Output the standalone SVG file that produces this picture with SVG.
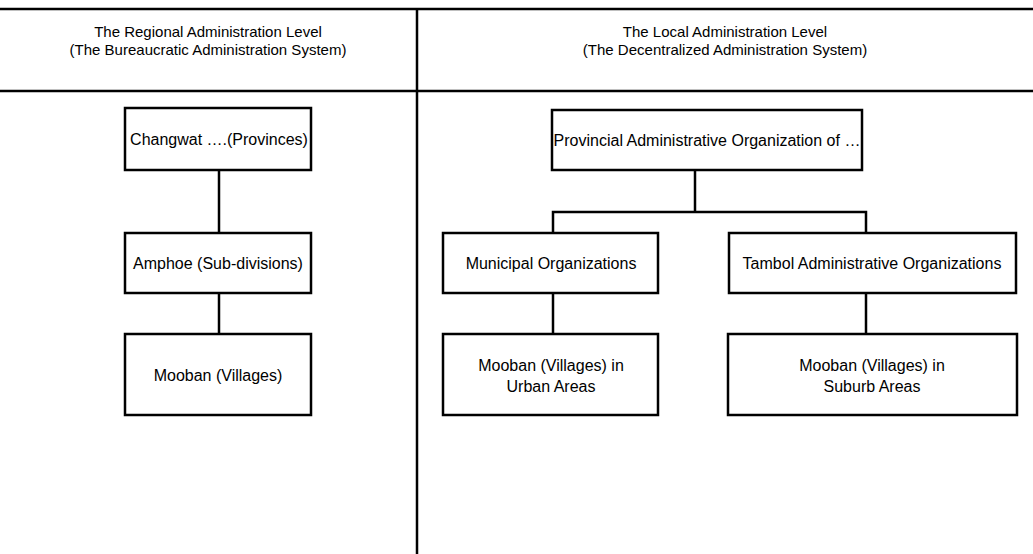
<svg xmlns="http://www.w3.org/2000/svg" width="1033" height="554" viewBox="0 0 1033 554">
<style>
.box{fill:#fff;stroke:#000;stroke-width:2.5}
.ln{stroke:#000;stroke-width:2.5;fill:none}
text{font-family:"Liberation Sans",Arial,sans-serif;font-size:16px;fill:#000;text-anchor:middle}
text.hd{font-size:15px}
</style>
<rect width="1033" height="554" fill="#fff"/>
<g id="frame">
<line class="ln" x1="0" y1="9" x2="1033" y2="9"/>
<line class="ln" x1="0" y1="91" x2="1033" y2="91"/>
<line class="ln" x1="417" y1="9" x2="417" y2="554"/>
</g>
<g id="header-left">
<text class="hd" x="208" y="37">The Regional Administration Level</text>
<text class="hd" x="208" y="55">(The Bureaucratic Administration System)</text>
</g>
<g id="header-right">
<text class="hd" x="725" y="37">The Local Administration Level</text>
<text class="hd" x="725" y="55">(The Decentralized Administration System)</text>
</g>
<g id="connectors">
<line class="ln" x1="219" y1="170" x2="219" y2="233"/>
<line class="ln" x1="219" y1="293" x2="219" y2="334"/>
<line class="ln" x1="695" y1="170" x2="695" y2="212"/>
<polyline class="ln" points="553,233 553,212 866,212 866,233"/>
<line class="ln" x1="553" y1="293" x2="553" y2="334"/>
<line class="ln" x1="866" y1="293" x2="866" y2="334"/>
</g>
<g id="changwat">
<rect class="box" x="125" y="108" width="186" height="62"/>
<text x="219" y="145">Changwat ….(Provinces)</text>
</g>
<g id="amphoe">
<rect class="box" x="125" y="233" width="186" height="60"/>
<text x="218" y="269">Amphoe (Sub-divisions)</text>
</g>
<g id="mooban">
<rect class="box" x="125" y="334" width="186" height="81"/>
<text x="218" y="381">Mooban (Villages)</text>
</g>
<g id="provincial">
<rect class="box" x="552" y="110" width="310" height="60"/>
<text x="707" y="146">Provincial Administrative Organization of …</text>
</g>
<g id="municipal">
<rect class="box" x="443" y="233" width="215" height="60"/>
<text x="551" y="269">Municipal Organizations</text>
</g>
<g id="tambol">
<rect class="box" x="729" y="233" width="287" height="60"/>
<text x="872" y="269">Tambol Administrative Organizations</text>
</g>
<g id="mooban-urban">
<rect class="box" x="443" y="334" width="215" height="81"/>
<text x="551" y="371">Mooban (Villages) in</text>
<text x="551" y="392">Urban Areas</text>
</g>
<g id="mooban-suburb">
<rect class="box" x="728" y="334" width="289" height="81"/>
<text x="872" y="371">Mooban (Villages) in</text>
<text x="872" y="392">Suburb Areas</text>
</g>
</svg>
